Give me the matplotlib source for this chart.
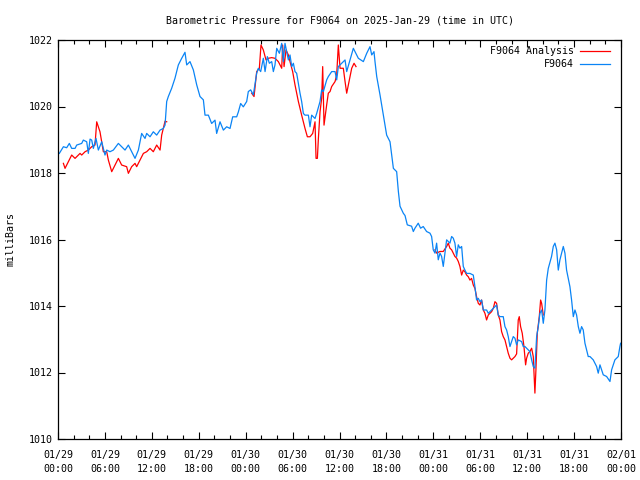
import numpy as np
import pandas as pd
import matplotlib
matplotlib.use("Agg")
from matplotlib import pyplot as plt
import matplotlib.dates as mdates

start = pd.Timestamp("2025-01-29 00:00")

# station pressure, hours since start / millibars
obs_hours = [
    0.17, 0.69, 1.11, 1.45, 1.75, 2.18, 2.39, 3.03, 3.24, 3.67, 3.88, 4.10, 4.31,
    4.52, 4.86, 5.16, 5.59, 6.01, 6.23, 6.65, 7.08, 7.72, 8.14, 8.57, 9.00, 9.85,
    10.28, 10.70, 11.13, 11.34, 11.77, 12.19, 12.62, 13.05, 13.47, 13.69, 13.90,
    14.11, 14.54, 14.96, 15.39, 15.82, 16.24, 16.46, 16.88, 17.31, 17.74, 18.16,
    18.59, 18.80, 19.23, 19.65, 20.08, 20.29, 20.72, 21.15, 21.57, 22.00, 22.34,
    22.85, 23.07, 23.36, 23.70, 24.13, 24.34, 24.64, 24.98, 25.41, 25.62, 25.92,
    26.26, 26.48, 26.77, 27.03, 27.33, 27.54, 27.75, 27.97, 28.31, 28.61, 28.82,
    29.03, 29.25, 29.46, 29.67, 29.89, 30.10, 30.31, 30.52, 30.95, 31.16, 31.38,
    31.59, 32.02, 32.23, 32.44, 32.87, 33.08, 33.51, 33.72, 33.94, 34.36, 34.57,
    35.00, 35.43, 35.64, 35.85, 36.28, 36.71, 36.92, 37.35, 37.77, 37.98, 38.41,
    39.05, 39.48, 39.90, 40.12, 40.41, 40.54, 40.76, 41.18, 41.61, 42.03, 42.46,
    42.89, 43.31, 43.53, 43.74, 44.16, 44.38, 44.67, 45.22, 45.44, 45.65, 46.07,
    46.37, 46.71, 47.14, 47.57, 47.78, 47.99, 48.21, 48.42, 48.63, 48.85, 49.06,
    49.27, 49.48, 49.70, 50.12, 50.34, 50.55, 50.76, 50.98, 51.19, 51.40, 51.62,
    51.83, 52.04, 52.26, 52.68, 53.11, 53.32, 53.53, 53.75, 53.96, 54.17, 54.39,
    54.81, 55.03, 55.45, 55.88, 56.09, 56.30, 56.52, 56.94, 57.16, 57.37, 57.58,
    57.80, 58.01, 58.22, 58.44, 58.65, 58.86, 59.29, 59.50, 59.72, 59.93, 60.14,
    60.35, 60.57, 60.78, 60.99, 61.21, 61.42, 61.63, 61.85, 62.06, 62.27, 62.49,
    62.70, 63.12, 63.34, 63.55, 63.77, 63.98, 64.19, 64.40, 64.62, 64.83, 65.04,
    65.47, 65.68, 65.90, 66.11, 66.32, 66.54, 66.75, 66.96, 67.17, 67.39, 67.81,
    68.03, 68.45, 68.88, 69.09, 69.31, 69.73, 70.16, 70.59, 70.80, 71.01, 71.22,
    71.65, 71.86, 71.95]
obs_mb = [
    1018.59, 1018.79, 1018.76, 1018.89, 1018.74, 1018.74, 1018.84, 1018.89, 1018.99,
    1018.94, 1018.59, 1019.02, 1018.99, 1018.74, 1019.04, 1018.69, 1018.94, 1018.54,
    1018.69, 1018.64, 1018.69, 1018.89, 1018.79, 1018.69, 1018.84, 1018.44, 1018.69,
    1019.19, 1019.04, 1019.19, 1019.09, 1019.24, 1019.14, 1019.29, 1019.34, 1019.44,
    1020.15, 1020.30, 1020.55, 1020.85, 1021.25, 1021.45, 1021.63, 1021.25, 1021.35,
    1021.10, 1020.65, 1020.30, 1020.20, 1019.74, 1019.74, 1019.49, 1019.59, 1019.19,
    1019.54, 1019.29, 1019.39, 1019.34, 1019.69, 1019.69, 1019.84, 1020.09, 1019.99,
    1020.15, 1020.45, 1020.50, 1020.35, 1021.00, 1021.15, 1021.05, 1021.45, 1021.05,
    1021.50, 1021.30, 1021.35, 1021.05, 1021.25, 1021.75, 1021.60, 1021.90, 1021.35,
    1021.90, 1021.65, 1021.40, 1021.55, 1021.20, 1021.30, 1021.05, 1021.00, 1020.40,
    1020.15, 1019.79, 1019.74, 1019.74, 1019.39, 1019.74, 1019.64, 1019.79, 1020.15,
    1020.50, 1020.45, 1020.80, 1020.90, 1021.05, 1021.05, 1020.80, 1021.20, 1021.30,
    1021.40, 1021.05, 1021.40, 1021.75, 1021.65, 1021.45, 1021.35, 1021.60, 1021.80,
    1021.55, 1021.65, 1021.35, 1020.90, 1020.35, 1019.74, 1019.14, 1018.94, 1018.14,
    1018.04, 1017.44, 1017.00, 1016.79, 1016.72, 1016.44, 1016.40, 1016.24, 1016.34,
    1016.49, 1016.34, 1016.39, 1016.24, 1016.19, 1016.09, 1015.69, 1015.59, 1015.89,
    1015.39, 1015.59, 1015.49, 1015.19, 1015.59, 1015.99, 1015.89, 1016.09, 1016.04,
    1015.89, 1015.49, 1015.84, 1015.74, 1015.79, 1015.19, 1015.08, 1014.98, 1014.98,
    1014.93, 1014.58, 1014.18, 1014.23, 1014.13, 1014.18, 1013.88, 1013.88, 1013.78,
    1013.88, 1013.98, 1014.03, 1013.73, 1013.68, 1013.68, 1013.38, 1013.28, 1013.08,
    1012.78, 1012.93, 1013.08, 1013.03, 1012.83, 1012.98, 1012.93, 1012.78, 1012.78,
    1012.73, 1012.68, 1012.63, 1012.38, 1012.18, 1012.13, 1013.08, 1013.38, 1013.78,
    1013.88, 1013.48, 1013.88, 1014.78, 1015.13, 1015.49, 1015.79, 1015.89, 1015.69,
    1015.08, 1015.39, 1015.59, 1015.79, 1015.59, 1015.08, 1014.58, 1014.18, 1013.68,
    1013.88, 1013.73, 1013.38, 1013.18, 1013.38, 1013.28, 1012.88, 1012.48, 1012.48,
    1012.38, 1012.18, 1011.98, 1012.23, 1011.93, 1011.88, 1011.73, 1012.08, 1012.23,
    1012.38, 1012.48, 1012.78, 1012.88]

# analysis comes in three separate chunks
ana1_hours = [0.69, 0.90, 1.32, 1.75, 2.18, 2.60, 2.82, 3.03, 3.46, 3.88, 4.31, 4.73,
              4.95, 5.37, 5.59, 5.80, 6.23, 6.44, 6.87, 7.29, 7.72, 8.14, 8.78, 9.00,
              9.42, 9.85, 10.06, 10.49, 10.92, 11.34, 11.77, 12.19, 12.62, 13.05,
              13.26, 13.47, 13.69, 13.90]
ana1_mb = [1018.29, 1018.14, 1018.34, 1018.54, 1018.44, 1018.54, 1018.59, 1018.54,
           1018.64, 1018.69, 1018.79, 1018.84, 1019.54, 1019.24, 1018.94, 1018.64,
           1018.64, 1018.39, 1018.04, 1018.24, 1018.44, 1018.24, 1018.19, 1017.99,
           1018.19, 1018.29, 1018.19, 1018.39, 1018.59, 1018.64, 1018.74, 1018.64,
           1018.84, 1018.69, 1019.14, 1019.34, 1019.56, 1019.54]

ana2_hours = [24.77, 25.07, 25.41, 25.75, 25.96, 26.26, 26.60, 26.90, 27.33, 27.75,
              28.18, 28.61, 28.73, 28.91, 29.16, 29.46, 29.67, 30.01, 30.31, 30.74,
              31.16, 31.59, 31.89, 32.23, 32.57, 32.87, 33.00, 33.17, 33.30, 33.51,
              33.72, 33.85, 34.02, 34.36, 34.57, 34.79, 35.00, 35.43, 35.64, 35.85,
              36.07, 36.49, 36.71, 36.92, 37.26, 37.56, 37.86, 38.11]
ana2_mb = [1020.40, 1020.30, 1021.05, 1021.15, 1021.85, 1021.70, 1021.40, 1021.45,
           1021.47, 1021.45, 1021.35, 1021.15, 1021.85, 1021.20, 1021.70, 1021.55,
           1021.35, 1021.05, 1020.65, 1020.15, 1019.74, 1019.34, 1019.09, 1019.09,
           1019.19, 1019.54, 1018.44, 1018.44, 1019.04, 1019.84, 1020.25, 1021.20,
           1019.44, 1020.05, 1020.40, 1020.45, 1020.60, 1020.75, 1020.95, 1021.85,
           1021.15, 1021.15, 1020.75, 1020.40, 1020.80, 1021.15, 1021.30, 1021.20]

ana3_hours = [48.21, 48.42, 48.85, 49.27, 49.70, 49.91, 50.12, 50.34, 50.55, 50.76,
              50.98, 51.19, 51.40, 51.62, 51.83, 52.04, 52.26, 52.47, 52.68, 52.89,
              53.11, 53.32, 53.53, 53.75, 53.96, 54.17, 54.39, 54.60, 54.81, 55.03,
              55.24, 55.45, 55.67, 55.88, 56.09, 56.30, 56.52, 56.73, 56.94, 57.16,
              57.37, 57.58, 57.80, 58.01, 58.22, 58.44, 58.65, 58.86, 58.99, 59.16,
              59.37, 59.59, 59.80, 59.93, 60.14, 60.35, 60.57, 60.78, 60.99, 61.12,
              61.29, 61.55, 61.72, 61.85, 62.06]
ana3_mb = [1015.69, 1015.59, 1015.64, 1015.64, 1015.79, 1015.89, 1015.74, 1015.69,
           1015.59, 1015.49, 1015.44, 1015.34, 1015.19, 1014.93, 1015.08, 1015.03,
           1014.93, 1014.88, 1014.78, 1014.83, 1014.63, 1014.53, 1014.28, 1014.08,
           1014.03, 1014.18, 1013.88, 1013.78, 1013.58, 1013.73, 1013.78, 1013.83,
           1013.93, 1014.13, 1014.08, 1013.73, 1013.58, 1013.23, 1013.08, 1012.98,
           1012.78, 1012.58, 1012.43, 1012.38, 1012.43, 1012.48, 1012.56, 1013.58,
           1013.68, 1013.38, 1013.18, 1012.78, 1012.23, 1012.43, 1012.58, 1012.63,
           1012.73, 1012.48, 1011.38, 1012.08, 1013.18, 1013.68, 1014.18, 1014.08,
           1013.73]

title = "Barometric Pressure for F9064 on 2025-Jan-29 (time in UTC)"
ana_color = "#ff0000"
obs_color = "#0a84f5"


def to_time(hours):
    return start + pd.to_timedelta(np.asarray(hours, dtype=float), unit="h")


# NaN between chunks so the analysis line breaks
ana_hours, ana_mb = [], []
for h, p in [(ana1_hours, ana1_mb), (ana2_hours, ana2_mb), (ana3_hours, ana3_mb)]:
    ana_hours += list(h) + [h[-1] + 0.01]
    ana_mb += list(p) + [np.nan]

plt.rcParams["font.family"] = ["DejaVu Sans Mono"]
plt.rcParams["font.size"] = 7.2

fig = plt.figure(figsize=(6.4, 4.8), dpi=100)
ax = fig.add_axes([58 / 640, 41 / 480, 563 / 640, 399 / 480])

ax.plot(to_time(ana_hours), ana_mb, color=ana_color, lw=0.9)
ax.plot(to_time(obs_hours), obs_mb, color=obs_color, lw=0.9)

ax.set_xlim(start, start + pd.Timedelta(hours=72))
ax.set_ylim(1010, 1022)
ax.set_yticks(np.arange(1010, 1023, 2))
ax.xaxis.set_major_locator(mdates.HourLocator(byhour=[0, 6, 12, 18]))
ax.xaxis.set_minor_locator(mdates.HourLocator(interval=2))
ax.xaxis.set_major_formatter(mdates.DateFormatter("%m/%d\n%H:%M"))
ax.tick_params(direction="in", top=True, right=True, which="both", width=0.8)
ax.tick_params(which="major", length=5)
ax.tick_params(which="minor", length=3)
ax.tick_params(axis="x", pad=8)
ax.tick_params(axis="y", pad=4)
for lbl in ax.get_xticklabels():
    lbl.set_linespacing(1.5)
for s in ax.spines.values():
    s.set_linewidth(0.9)

ax.set_ylabel("milliBars", labelpad=9)
ax.set_title(title, fontsize=7.2, pad=12)

# legend drawn gnuplot style (right aligned text, sample on the right)
for i, (lab, col) in enumerate([("F9064 Analysis", ana_color), ("F9064", obs_color)]):
    yy = 0.973 - i * 0.033
    ax.text(0.9165, yy, lab, transform=ax.transAxes, ha="right", va="center")
    ax.plot([0.927, 0.980], [yy, yy], color=col, lw=0.9, transform=ax.transAxes)

fig.savefig("out.png", dpi=100)
